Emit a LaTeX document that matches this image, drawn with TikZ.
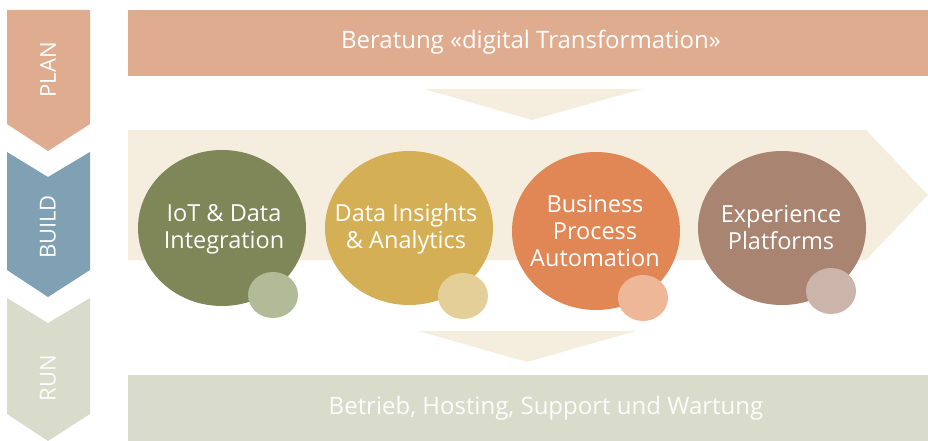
\documentclass[tikz,border=0pt]{standalone}
\usepackage{fontspec}
\setmainfont{Open Sans}

\definecolor{plancol}{HTML}{E0AC8F}
\definecolor{buildcol}{HTML}{7FA1B3}
\definecolor{runcol}{HTML}{D9DCCB}
\definecolor{bandcol}{HTML}{F5EEDF}
\definecolor{olivecol}{HTML}{7F8658}
\definecolor{olivelight}{HTML}{B3BA98}
\definecolor{mustcol}{HTML}{D4AF55}
\definecolor{mustlight}{HTML}{E5CF98}
\definecolor{orangecol}{HTML}{E08755}
\definecolor{orangelight}{HTML}{EEB797}
\definecolor{browncol}{HTML}{A88471}
\definecolor{brownlight}{HTML}{CBB5AA}

\begin{document}
\begin{tikzpicture}[x=1pt,y=-1pt,
		bubbletext/.style={align=center,text=white,inner sep=0pt,font=\fontsize{23.5}{27}\selectfont},
		phase/.style={rotate=90,text=white,font=\fontsize{22}{24}\selectfont},
		barlabel/.style={text=white,font=\fontsize{24}{26}\selectfont}]
		\useasboundingbox (0,0) rectangle (928,441);

		% Phases on the left
		\fill[plancol] (7,10) -- (90,10) -- (90,124) -- (48,151) -- (7,124) -- cycle;
		\node[phase] (plan) at (48,70) {PLAN};
		\fill[buildcol] (7,152) -- (48,177) -- (90,152) -- (90,270) -- (48,297) -- (7,270) -- cycle;
		\node[phase] (build) at (48,227) {BUILD};
		\fill[runcol] (7,298) -- (48,323) -- (90,298) -- (90,414) -- (48,441) -- (7,414) -- cycle;
		\node[phase,text=white!92!runcol] (run) at (48,378) {RUN};

		% Plan: consulting bar
		\fill[plancol] (128,10) rectangle (928,76);
		\node[barlabel] (consult) at (531,42) {Beratung «digital Transformation»};
		\fill[bandcol] (424,89) -- (642,89) -- (532,120) -- cycle;

		% Build: arrow band with the four fields
		\fill[bandcol] (128,130) -- (866,130) -- (928,195) -- (866,260) -- (128,260) -- cycle;

		\fill[olivecol] (222,228) ellipse [x radius=84, y radius=78];
		\fill[olivelight] (273,295) ellipse [x radius=25, y radius=23];
		\node[bubbletext] (iot) at (224,229) {IoT \& Data\\Integration};

		\fill[mustcol] (409,228) ellipse [x radius=84, y radius=77];
		\fill[mustlight] (463,296) ellipse [x radius=25, y radius=23];
		\node[bubbletext] (insights) at (406,229) {Data Insights\\\& Analytics};

		\fill[orangecol] (596,231) ellipse [x radius=84, y radius=79];
		\fill[orangelight] (643,298) ellipse [x radius=25, y radius=23];
		\node[bubbletext] (bpa) at (595,231) {Business\\Process\\Automation};

		\fill[browncol] (782,228) ellipse [x radius=84, y radius=77];
		\fill[brownlight] (831,291) ellipse [x radius=25, y radius=23];
		\node[bubbletext] (xp) at (781,227) {Experience\\Platforms};

		% Run: operations bar
		\fill[bandcol] (418,331) -- (636,331) -- (527,362) -- cycle;
		\fill[runcol] (128,375) rectangle (928,441);
		\node[barlabel,text=white!92!runcol] (ops) at (546,408) {Betrieb, Hosting, Support und Wartung};
	\end{tikzpicture}
\end{document}
